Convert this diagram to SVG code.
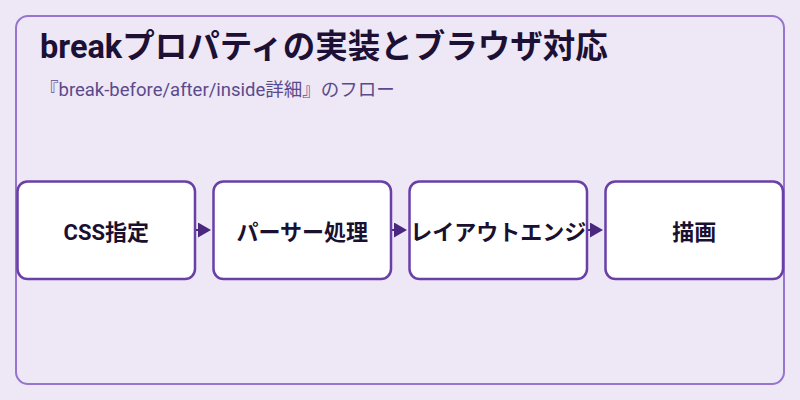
<svg xmlns="http://www.w3.org/2000/svg" width="800" height="400" viewBox="0 0 800 400">
  <defs>
    <style>
      .bg { fill: #ede7f6; }
      .frame { fill: none; stroke: #9575cd; stroke-width: 2; }
      .title { font-family: Roboto, "Noto Sans CJK JP", sans-serif; font-size: 32.5px; font-weight: 700; fill: #1c1035; }
      .subtitle { font-family: Roboto, "Noto Sans CJK JP", sans-serif; font-size: 18.5px; font-weight: 400; fill: #5b4a8b; }
      .node rect { fill: #ffffff; stroke: #6a3fa6; stroke-width: 2.5; }
      .node text { font-family: Roboto, "Noto Sans CJK JP", sans-serif; font-size: 22px; font-weight: 700; fill: #1a1030; text-anchor: middle; }
      .conn { stroke: #4a2880; stroke-width: 2; fill: none; marker-end: url(#arrow); }
    </style>
    <marker id="arrow" markerUnits="userSpaceOnUse" markerWidth="14" markerHeight="16" refX="0" refY="7.5" orient="auto">
      <path d="M0,0 L13,7.5 L0,15 Z" fill="#4a2880"/>
    </marker>
  </defs>
  <rect class="bg" x="0" y="0" width="800" height="400"/>
  <rect class="frame" x="16" y="16" width="768" height="368" rx="12" ry="12"/>
  <text class="title" x="40" y="58">breakプロパティの実装とブラウザ対応</text>
  <text class="subtitle" x="40" y="96">『break-before/after/inside詳細』のフロー</text>

  <g id="connectors">
    <line class="conn" x1="196" y1="230" x2="198" y2="230"/>
    <line class="conn" x1="392" y1="230" x2="394" y2="230"/>
    <line class="conn" x1="588" y1="230" x2="590" y2="230"/>
  </g>

  <g id="node-css" class="node">
    <rect x="17.5" y="181.5" width="177.5" height="97.5" rx="10" ry="10"/>
    <text x="106.25" y="240">CSS指定</text>
  </g>
  <g id="node-parser" class="node">
    <rect x="213.5" y="181.5" width="177.5" height="97.5" rx="10" ry="10"/>
    <text x="302.25" y="240">パーサー処理</text>
  </g>
  <g id="node-layout" class="node">
    <rect x="409.5" y="181.5" width="177.5" height="97.5" rx="10" ry="10"/>
    <text x="498.25" y="240">レイアウトエンジ</text>
  </g>
  <g id="node-paint" class="node">
    <rect x="605.5" y="181.5" width="177.5" height="97.5" rx="10" ry="10"/>
    <text x="694.25" y="240">描画</text>
  </g>
</svg>
